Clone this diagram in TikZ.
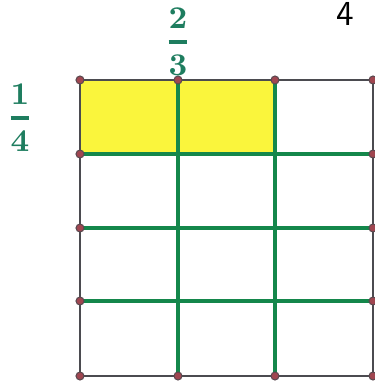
\documentclass[tikz,border=0pt]{standalone}
\usepackage{amsmath}
\usepackage{xcolor}
\usepackage{tikz}
\usetikzlibrary{positioning, calc}
\definecolor{gridgreen}{RGB}{20,135,75}
\definecolor{labelgreen}{RGB}{30,125,95}
\definecolor{rimgray}{RGB}{75,75,80}
\definecolor{dotred}{RGB}{160,70,80}
\definecolor{hiyellow}{RGB}{250,245,60}
\tikzstyle{gridline} = [draw=gridgreen, line width=1.2pt]
\tikzstyle{rim} = [draw=rimgray, line width=0.7pt]
\tikzstyle{dot} = [circle, fill=dotred, draw=rimgray!80!dotred, line width=0.3pt, inner sep=0pt, minimum size=0.08cm]
\tikzstyle{frac} = [text=labelgreen, font=\bfseries\fontsize{9.5}{11}\selectfont]

\begin{document}
\begin{tikzpicture}
\useasboundingbox (0,0) rectangle (3.74,3.83);
% Grid corners
\coordinate (c0) at (0.80,3.03);
\coordinate (c1) at (1.78,3.03);
\coordinate (c2) at (2.75,3.03);
\coordinate (c3) at (3.73,3.03);
\coordinate (b0) at (0.80,0.07);
\coordinate (b1) at (1.78,0.07);
\coordinate (b2) at (2.75,0.07);
\coordinate (b3) at (3.73,0.07);
\coordinate (l1) at (0.80,2.29);
\coordinate (l2) at (0.80,1.55);
\coordinate (l3) at (0.80,0.82);
\coordinate (r1) at (3.73,2.29);
\coordinate (r2) at (3.73,1.55);
\coordinate (r3) at (3.73,0.82);

% Shaded part
\fill[hiyellow] (c0) rectangle (l1 -| c2);

% Inner lines
\draw[gridline] (c1) -- (b1);
\draw[gridline] (c2) -- (b2);
\draw[gridline] (l1) -- (r1);
\draw[gridline] (l2) -- (r2);
\draw[gridline] (l3) -- (r3);

% Outline
\draw[rim] (c0) -- (c3) -- (b3) -- (b0) -- cycle;

% Points
\node[dot] (pc0) at (c0) {};
\node[dot] (pc1) at (c1) {};
\node[dot] (pc2) at (c2) {};
\node[dot] (pc3) at (c3) {};
\node[dot] (pb0) at (b0) {};
\node[dot] (pb1) at (b1) {};
\node[dot] (pb2) at (b2) {};
\node[dot] (pb3) at (b3) {};
\node[dot] (pl1) at (l1) {};
\node[dot] (pl2) at (l2) {};
\node[dot] (pl3) at (l3) {};
\node[dot] (pr1) at (r1) {};
\node[dot] (pr2) at (r2) {};
\node[dot] (pr3) at (r3) {};

% Labels
\node[frac] (twothirds) at (1.78,3.41) {$\genfrac{}{}{1.1pt}{0}{\boldsymbol{2}}{\boldsymbol{3}}$};
\node[frac] (onequarter) at (0.20,2.65) {$\genfrac{}{}{1.1pt}{0}{\boldsymbol{1}}{\boldsymbol{4}}$};
\node[font=\sffamily\fontsize{10}{12}\selectfont] (page) at (3.45,3.69) {4};
\end{tikzpicture}
\end{document}
